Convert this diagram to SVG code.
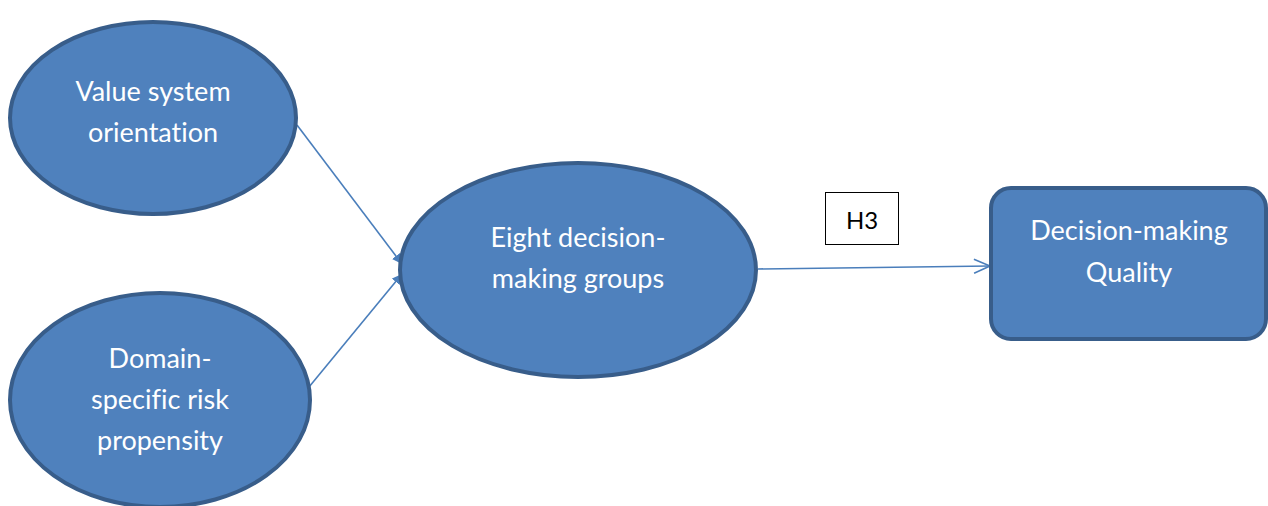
<svg xmlns="http://www.w3.org/2000/svg" width="1268" height="506" viewBox="0 0 1268 506">
  <style>
    .shape { fill: #4f81bd; stroke: #385d8a; stroke-width: 4; }
    .label { font-family: Lato, "Open Sans", "Liberation Sans", sans-serif; font-size: 27px; fill: #ffffff; text-anchor: middle; font-variant-ligatures: none; }
    .conn { stroke: #4a7ebb; stroke-width: 1.6; fill: none; }
    .tag { fill: #ffffff; stroke: #000000; stroke-width: 1; }
    .tagtext { font-family: Lato, "Liberation Sans", sans-serif; font-size: 24px; fill: #000000; text-anchor: middle; }
  </style>
  <defs>
    <marker id="solid" markerWidth="12" markerHeight="12" refX="10" refY="5" orient="auto" markerUnits="userSpaceOnUse">
      <path d="M0,0 L10,5 L0,10 Z" fill="#4a7ebb"/>
    </marker>
    <marker id="open" markerWidth="20" markerHeight="20" refX="17" refY="8" orient="auto" markerUnits="userSpaceOnUse">
      <path d="M1,1 L17,8 L1,15" fill="none" stroke="#4a7ebb" stroke-width="1.6"/>
    </marker>
  </defs>

  <rect width="1268" height="506" fill="#ffffff"/>

  <g id="connectors">
    <line class="conn" x1="297" y1="125" x2="402" y2="264" marker-end="url(#solid)"/>
    <line class="conn" x1="309" y1="387" x2="402" y2="274" marker-end="url(#solid)"/>
    <line class="conn" x1="758" y1="269" x2="990" y2="266" marker-end="url(#open)"/>
  </g>

  <g id="value-system">
    <ellipse class="shape" cx="153" cy="118" rx="143" ry="96"/>
    <text class="label" x="153" y="101">Value system</text>
    <text class="label" x="153" y="142">orientation</text>
  </g>

  <g id="risk-propensity">
    <ellipse class="shape" cx="160" cy="400" rx="150" ry="107"/>
    <text class="label" x="160" y="368">Domain-</text>
    <text class="label" x="160" y="409">specific risk</text>
    <text class="label" x="160" y="450">propensity</text>
  </g>

  <g id="decision-groups">
    <ellipse class="shape" cx="578" cy="270" rx="178" ry="107"/>
    <text class="label" x="578" y="247">Eight decision-</text>
    <text class="label" x="578" y="288">making groups</text>
  </g>

  <g id="h3">
    <rect class="tag" x="825.500" y="192.500" width="73" height="52"/>
    <text class="tagtext" x="862" y="229">H3</text>
  </g>

  <g id="decision-quality">
    <rect class="shape" x="991" y="188" width="275" height="151" rx="20" ry="20"/>
    <text class="label" x="1129" y="240">Decision-making</text>
    <text class="label" x="1129" y="282">Quality</text>
  </g>
</svg>
